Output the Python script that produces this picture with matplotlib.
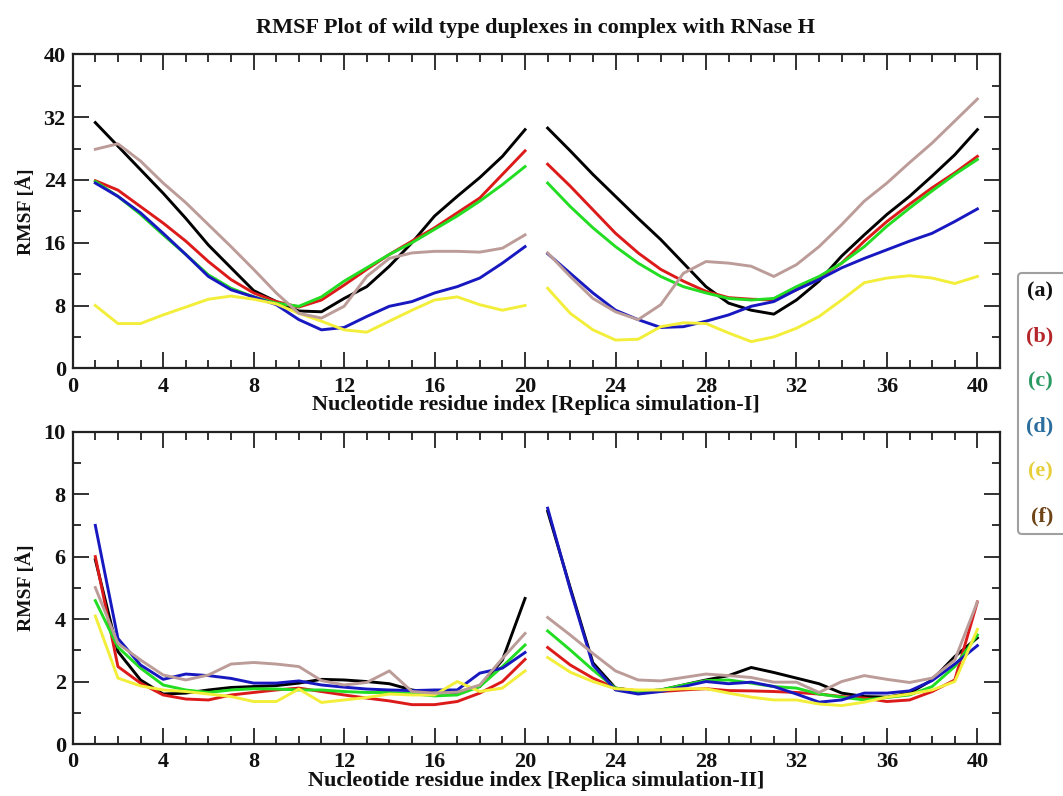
import numpy as np
import matplotlib
matplotlib.use("Agg")
import matplotlib.pyplot as plt
from matplotlib.ticker import MultipleLocator
from matplotlib.lines import Line2D

plt.rcParams['font.family'] = ['Liberation Serif', 'DejaVu Serif']
plt.rcParams['font.weight'] = 'bold'

residues = np.arange(1, 41)
labels = ['(a)', '(b)', '(c)', '(d)', '(e)', '(f)']
line_colors = ['#000000', '#dd1a1a', '#22dd22', '#1818c0', '#f2ee3a', '#bc9c98']
legend_colors = ['#111111', '#b5262b', '#2a9a62', '#2b6e9e', '#e8cf3a', '#6e4518']

# Replica simulation-I (RMSF, Angstrom)
rep1_a = [31.3, 28.3, 25.3, 22.3, 19.1, 15.7, 12.8, 9.9, 8.5, 7.3, 7.2, 8.9, 10.4, 13.0, 16.0, 19.4, 21.9, 24.3, 27.0, 30.4,
          30.6, 27.7, 24.7, 21.9, 19.1, 16.4, 13.4, 10.4, 8.3, 7.4, 6.9, 8.7, 11.1, 14.3, 17.0, 19.6, 21.9, 24.5, 27.2, 30.4]
rep1_b = [23.9, 22.7, 20.6, 18.5, 16.2, 13.6, 11.3, 9.6, 8.5, 7.8, 8.7, 10.6, 12.6, 14.5, 16.2, 17.9, 19.8, 21.7, 24.7, 27.7,
          26.0, 23.2, 20.2, 17.2, 14.7, 12.6, 11.1, 9.8, 9.0, 8.8, 8.7, 10.0, 11.5, 13.4, 16.2, 18.7, 20.9, 23.0, 24.9, 27.0]
rep1_c = [23.8, 21.9, 19.6, 17.0, 14.5, 11.9, 10.2, 9.1, 8.3, 7.9, 9.1, 11.1, 12.8, 14.5, 16.0, 17.7, 19.4, 21.3, 23.4, 25.7,
          23.6, 20.6, 17.9, 15.5, 13.4, 11.7, 10.4, 9.6, 8.9, 8.7, 8.9, 10.4, 11.7, 13.4, 15.5, 18.1, 20.4, 22.6, 24.7, 26.6]
rep1_d = [23.6, 21.9, 19.8, 17.2, 14.5, 11.7, 10.0, 9.1, 8.1, 6.2, 4.9, 5.2, 6.6, 7.9, 8.5, 9.6, 10.4, 11.5, 13.4, 15.5,
          14.6, 12.1, 9.6, 7.4, 6.2, 5.2, 5.3, 6.0, 6.8, 7.9, 8.5, 10.0, 11.3, 12.8, 14.0, 15.1, 16.2, 17.2, 18.7, 20.3]
rep1_e = [8.0, 5.7, 5.7, 6.8, 7.8, 8.8, 9.2, 8.8, 8.2, 7.0, 6.0, 4.9, 4.6, 6.0, 7.4, 8.7, 9.1, 8.1, 7.4, 8.0,
          10.2, 7.0, 4.9, 3.6, 3.7, 5.3, 5.8, 5.7, 4.5, 3.4, 4.0, 5.1, 6.6, 8.7, 10.9, 11.5, 11.8, 11.5, 10.8, 11.7]
rep1_f = [27.9, 28.6, 26.4, 23.6, 21.1, 18.3, 15.5, 12.6, 9.6, 7.0, 6.4, 7.9, 11.7, 14.0, 14.7, 14.9, 14.9, 14.8, 15.3, 17.0,
          14.7, 11.7, 8.9, 7.2, 6.2, 8.1, 12.1, 13.6, 13.4, 13.0, 11.7, 13.2, 15.5, 18.3, 21.3, 23.6, 26.2, 28.7, 31.5, 34.3]

# Replica simulation-II (RMSF, Angstrom)
rep2_a = [5.9, 2.96, 2.05, 1.60, 1.63, 1.73, 1.81, 1.84, 1.87, 1.95, 2.07, 2.05, 2.00, 1.93, 1.73, 1.63, 1.65, 1.84, 2.69, 4.66,
          7.45, 5.0, 2.6, 1.79, 1.68, 1.73, 1.89, 2.05, 2.19, 2.45, 2.29, 2.11, 1.93, 1.63, 1.52, 1.50, 1.63, 2.05, 2.80, 3.40]
rep2_b = [6.0, 2.48, 1.95, 1.57, 1.44, 1.41, 1.57, 1.65, 1.73, 1.79, 1.68, 1.57, 1.47, 1.38, 1.26, 1.26, 1.36, 1.63, 2.00, 2.71,
          3.09, 2.53, 2.11, 1.79, 1.70, 1.68, 1.73, 1.77, 1.71, 1.70, 1.68, 1.65, 1.60, 1.52, 1.47, 1.36, 1.41, 1.68, 2.05, 4.55]
rep2_c = [4.59, 3.10, 2.43, 1.89, 1.73, 1.65, 1.73, 1.77, 1.76, 1.73, 1.73, 1.68, 1.65, 1.65, 1.61, 1.54, 1.57, 1.84, 2.48, 3.17,
          3.62, 3.01, 2.37, 1.79, 1.68, 1.73, 1.89, 2.03, 2.05, 1.95, 1.84, 1.79, 1.60, 1.50, 1.41, 1.49, 1.57, 1.84, 2.48, 3.49]
rep2_d = [7.0, 3.38, 2.53, 2.07, 2.24, 2.19, 2.10, 1.95, 1.95, 2.02, 1.89, 1.82, 1.76, 1.73, 1.71, 1.73, 1.73, 2.27, 2.43, 2.93,
          7.55, 4.95, 2.53, 1.73, 1.60, 1.68, 1.84, 2.00, 1.93, 1.98, 1.84, 1.60, 1.34, 1.41, 1.63, 1.63, 1.70, 2.03, 2.56, 3.15]
rep2_e = [4.10, 2.11, 1.86, 1.73, 1.68, 1.60, 1.52, 1.36, 1.36, 1.76, 1.33, 1.41, 1.49, 1.60, 1.57, 1.57, 2.00, 1.68, 1.79, 2.34,
          2.77, 2.30, 2.00, 1.77, 1.73, 1.73, 1.77, 1.77, 1.63, 1.50, 1.41, 1.41, 1.28, 1.23, 1.34, 1.50, 1.60, 1.73, 2.00, 3.67]
rep2_f = [5.01, 3.22, 2.69, 2.21, 2.05, 2.21, 2.56, 2.61, 2.56, 2.48, 2.03, 1.89, 1.97, 2.34, 1.68, 1.63, 1.66, 1.89, 2.74, 3.54,
          4.05, 3.49, 2.90, 2.34, 2.05, 2.02, 2.13, 2.24, 2.19, 2.13, 1.98, 1.98, 1.65, 2.00, 2.19, 2.07, 1.97, 2.11, 2.69, 4.55]

rep1 = [rep1_a, rep1_b, rep1_c, rep1_d, rep1_e, rep1_f]
rep2 = [rep2_a, rep2_b, rep2_c, rep2_d, rep2_e, rep2_f]

W, H = 1063, 796
fig = plt.figure(figsize=(W / 100, H / 100), dpi=100)

def px_axes(l, t, r, b):
    return fig.add_axes([l / W, 1 - b / H, (r - l) / W, (b - t) / H])

ax1 = px_axes(72.7, 54.3, 1000, 368.3)
ax2 = px_axes(72.7, 431.7, 1000, 744)

tick_fs = 16
for ax, data, ymax, ymaj, ymin, xl in [
        (ax1, rep1, 40, 8, 4, 'Nucleotide residue index [Replica simulation-I]'),
        (ax2, rep2, 10, 2, 1, 'Nucleotide residue index [Replica simulation-II]')]:
    for vals, col in zip(data, line_colors):
        v = np.array(vals)
        ax.plot(residues[:20], v[:20], color=col, lw=2.1)
        ax.plot(residues[20:], v[20:], color=col, lw=2.1)
    ax.set_xlim(0, 41)
    ax.set_ylim(0, ymax)
    ax.xaxis.set_major_locator(MultipleLocator(4))
    ax.xaxis.set_minor_locator(MultipleLocator(1))
    ax.yaxis.set_major_locator(MultipleLocator(ymaj))
    ax.yaxis.set_minor_locator(MultipleLocator(ymin))
    ax.tick_params(which='both', direction='in', top=True, right=True, width=1.3, colors='#222222')
    ax.tick_params(which='major', length=11.5)
    ax.tick_params(which='minor', length=6)
    ax.tick_params(axis='x', pad=6, labelsize=tick_fs)
    ax.tick_params(axis='y', pad=5, labelsize=tick_fs)
    xticks = [t for t in range(0, 41, 4)]
    ax.set_xticks(xticks)
    ax.set_xticklabels([str(t) for t in xticks])
    for lab in ax.get_xticklabels() + ax.get_yticklabels():
        lab.set_fontweight('bold')
        lab.set_fontsize(tick_fs)
        lab.set_color('#111111')
    for s in ax.spines.values():
        s.set_linewidth(1.6)
        s.set_color('#222222')
    ax.set_xlabel(xl, fontsize=16, fontweight='bold', labelpad=-1, color='#111111')
    ax.set_ylabel('RMSF [Å]', fontsize=14, fontweight='bold', labelpad=6, color='#111111')

fig.text(536 / W, 1 - 28 / H, 'RMSF Plot of wild type duplexes in complex with RNase H',
         ha='center', va='center', fontsize=16, fontweight='bold', color='#111111')

handles = [Line2D([], [], linestyle='none', color=c) for c in line_colors]
leg = fig.legend(handles, labels, loc='upper left', bbox_to_anchor=(1018 / W, 1 - 273 / H),
                 frameon=True, fancybox=True, markerfirst=False, handlelength=1.5, handletextpad=0.4,
                 labelspacing=1.1, borderpad=0.35, borderaxespad=0, prop={'weight': 'bold', 'size': 16},
                 labelcolor=legend_colors)
leg.get_frame().set_edgecolor('#888888')
leg.get_frame().set_linewidth(1.5)

fig.savefig('out.png', dpi=100)
